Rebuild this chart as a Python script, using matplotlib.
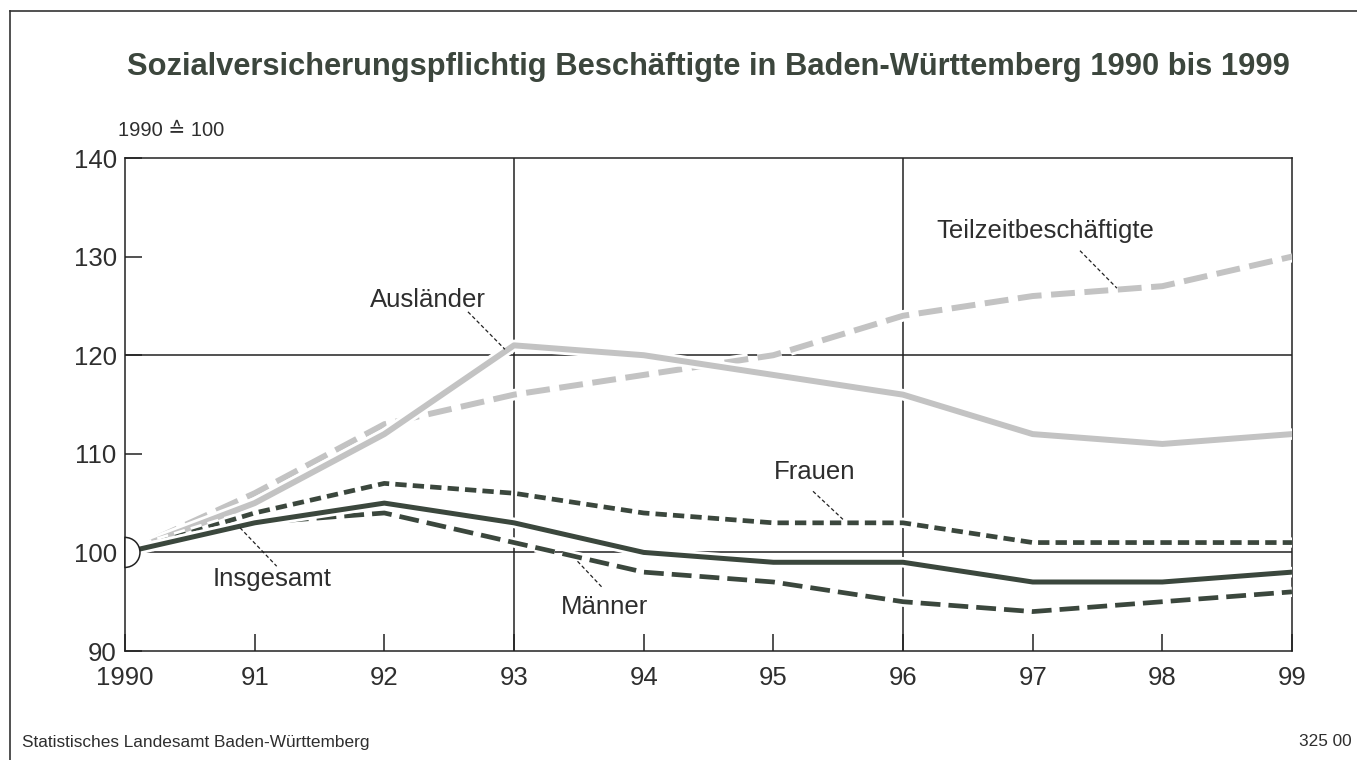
import matplotlib.pyplot as plt
import matplotlib.patheffects as pe
from matplotlib.patches import Wedge
from matplotlib.lines import Line2D
from matplotlib.transforms import ScaledTranslation, Affine2D

plt.rcParams['font.family'] = ['Liberation Sans', 'DejaVu Sans']

# Daten (1990 = 100)
years = [1990, 1991, 1992, 1993, 1994, 1995, 1996, 1997, 1998, 1999]
xlabels = ['1990', '91', '92', '93', '94', '95', '96', '97', '98', '99']
insgesamt = [100, 103, 105, 103, 100, 99, 99, 97, 97, 98]
maenner = [100, 103, 104, 101, 98, 97, 95, 94, 95, 96]
frauen = [100, 104, 107, 106, 104, 103, 103, 101, 101, 101]
auslaender = [100, 105, 112, 121, 120, 118, 116, 112, 111, 112]
teilzeit = [100, 106, 113, 116, 118, 120, 124, 126, 127, 130]

dark = '#3b473d'
light = '#c3c3c3'
txt = '#2e2e2e'

fig = plt.figure(figsize=(13.57, 7.6), dpi=100)
ax = fig.add_axes([0.0921, 0.1434, 0.860, 0.6487])

def halo(lw):
    return [pe.Stroke(linewidth=lw + 4, foreground='white'), pe.Normal()]

# Gitternetz
for y in [100, 120]:
    ax.axhline(y, color='#222222', lw=1.1, zorder=1)
for x in [1993, 1996]:
    ax.axvline(x, color='#222222', lw=1.1, zorder=1)

l, = ax.plot(years, teilzeit, color=light, lw=4.3, zorder=3, path_effects=halo(4.3))
l.set_dashes((4.0, 1.6))
ax.plot(years, auslaender, color=light, lw=4.3, zorder=4, path_effects=halo(4.3))
l, = ax.plot(years, frauen, color=dark, lw=3.4, zorder=5, path_effects=halo(3.4))
l.set_dashes((2.4, 1.3))
l, = ax.plot(years, maenner, color=dark, lw=3.4, zorder=6, path_effects=halo(3.4))
l.set_dashes((4.2, 1.7))
ax.plot(years, insgesamt, color=dark, lw=3.6, zorder=7, path_effects=halo(3.6))

ax.set_xlim(1990, 1999)
ax.set_ylim(90, 140)
ax.set_xticks(years)
ax.set_xticklabels(xlabels)
ax.set_yticks([90, 100, 110, 120, 130, 140])
ax.tick_params(axis='both', direction='in', length=12, width=1.1, labelsize=18.5,
               colors='#222222', labelcolor=txt)
ax.tick_params(axis='y', pad=6)
ax.tick_params(axis='x', pad=11)
for s in ax.spines.values():
    s.set_linewidth(1.1)
    s.set_color('#222222')

# Halbkreis an der Basis (Radius in Pixeln)
w = Wedge((0, 0), 15, -90, 90, facecolor='white', edgecolor='#222222', lw=1.1,
          zorder=10, clip_on=False)
w.set_transform(Affine2D() + ScaledTranslation(1990, 100, ax.transData))
ax.add_patch(w)

# Beschriftungen mit Hinweislinien
labels = [
    ('Ausländer', 1992.333, 125.6, (1992.645, 1992.93), (124.4, 120.6)),
    ('Teilzeitbeschäftigte', 1997.095, 132.6, (1997.365, 1997.65), (130.6, 126.8)),
    ('Frauen', 1995.32, 108.2, (1995.306, 1995.537), (106.2, 103.35)),
    ('Insgesamt', 1991.134, 97.26, (1990.887, 1991.17), (102.5, 98.6)),
    ('Männer', 1993.70, 94.5, (1993.49, 1993.68), (99.1, 96.45)),
]
for name, tx, ty, lx, ly in labels:
    ax.text(tx, ty, name, ha='center', va='center', fontsize=18.5, color=txt, zorder=12)
    ax.plot(lx, ly, color='#222222', lw=0.9, ls=(0, (3, 2)), zorder=11)

fig.text(127 / 1357, 1 - 67 / 760,
         'Sozialversicherungspflichtig Beschäftigte in Baden-Württemberg 1990 bis 1999',
         fontsize=22.2, fontweight='bold', color='#3c463d', va='center', ha='left')
fig.text(118 / 1357, 1 - 131 / 760, '1990 ≙ 100', fontsize=14.5, color=txt,
         va='center', ha='left')
fig.text(22 / 1357, 1 - 742 / 760, 'Statistisches Landesamt Baden-Württemberg',
         fontsize=12.4, color=txt, va='center', ha='left')
fig.text(1352 / 1357, 1 - 742 / 760, '325 00', fontsize=12.4, color=txt,
         va='center', ha='right')

# Rahmen
fig.add_artist(Line2D([10 / 1357, 10 / 1357], [0, 1 - 11 / 760], color='#333333', lw=1.2))
fig.add_artist(Line2D([10 / 1357, 1], [1 - 11 / 760, 1 - 11 / 760], color='#333333', lw=1.2))

fig.savefig('out.png', dpi=100)
